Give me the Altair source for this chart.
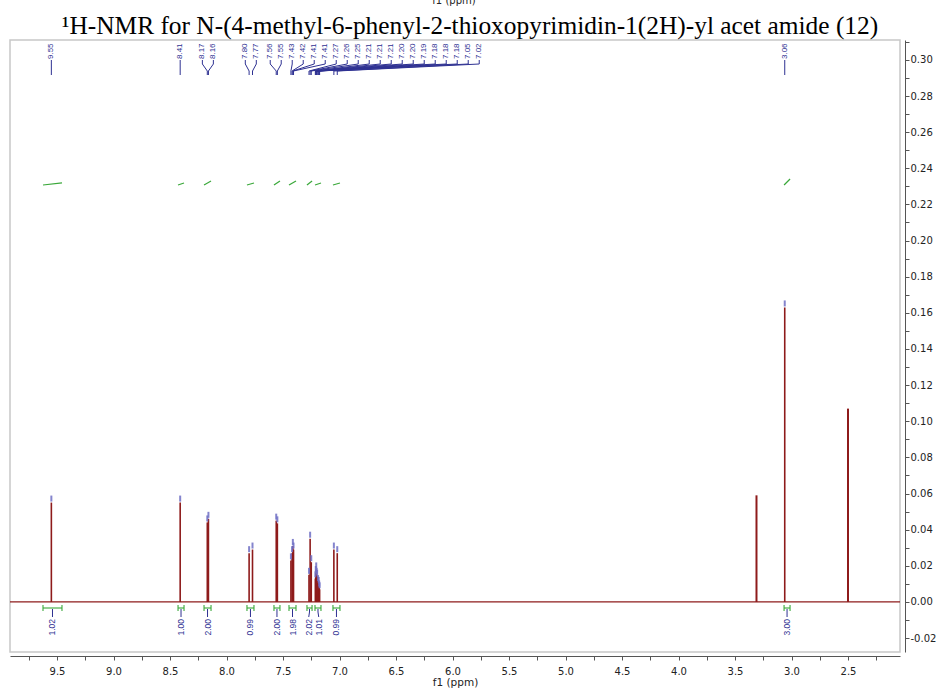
import altair as alt
import pandas as pd

# ---------------- data ----------------
peak_ppm = [9.55, 8.41, 8.17, 8.16, 7.80, 7.77, 7.56, 7.55, 7.43, 7.42, 7.413, 7.407,
            7.27, 7.26, 7.25, 7.214, 7.210, 7.206, 7.202, 7.198, 7.190, 7.184, 7.180, 7.176,
            7.05, 7.02, 3.06]
peak_height = [0.055, 0.055, 0.044, 0.046, 0.027, 0.029, 0.045, 0.0435, 0.023, 0.027, 0.031, 0.029,
               0.015, 0.035, 0.022, 0.013, 0.016, 0.018, 0.015, 0.014, 0.011, 0.010, 0.008, 0.007,
               0.029, 0.027, 0.163]
peak_labels = ["9.55", "8.41", "8.17", "8.16", "7.80", "7.77", "7.56", "7.55", "7.43", "7.42",
               "7.41", "7.41", "7.27", "7.26", "7.25", "7.21", "7.21", "7.21", "7.20", "7.20",
               "7.19", "7.18", "7.18", "7.18", "7.05", "7.02", "3.06"]
solvent_ppm = [3.31, 2.50]
solvent_height = [0.059, 0.107]

int_start = [9.624, 8.429, 8.199, 7.819, 7.580, 7.447, 7.288, 7.217, 7.058, 3.066]
int_end = [9.456, 8.376, 8.137, 7.757, 7.527, 7.385, 7.243, 7.164, 6.996, 3.013]
int_values = ["1.02", "1.00", "2.00", "0.99", "2.00", "1.98", "2.02", "1.01", "0.99", "3.00"]

title_text = "\u00b9H-NMR for N-(4-methyl-6-phenyl-2-thioxopyrimidin-1(2H)-yl acet amide (12)"

# ---------------- layout helpers ----------------
X_MIN, X_MAX = 2.04, 9.916
Y_MIN, Y_MAX = -0.0277, 0.311
W, H = 890, 612
PPM_PER_PX = (X_MAX - X_MIN) / W

RED = "#8e1b1b"
NAVY = "#2e3192"
GREEN = "#3aa83a"


def spread(actual, gap, cap):
    """Push labels apart (descending ppm) and re-centre short chains."""
    out, chains = [], []
    for i, p in enumerate(actual):
        if out and p > out[-1] - gap:
            out.append(out[-1] - gap)
            chains[-1].append(i)
        else:
            out.append(p)
            chains.append([i])
    prev_last = None
    for ch in chains:
        s = sum(actual[i] for i in ch) / len(ch) - sum(out[i] for i in ch) / len(ch)
        s = max(0.0, min(s, cap))
        if prev_last is not None:
            s = min(s, max(0.0, prev_last - gap - out[ch[0]]))
        for i in ch:
            out[i] += s
        prev_last = out[ch[-1]]
    return out


label_pos = spread(peak_ppm, 11 * PPM_PER_PX, 6 * PPM_PER_PX)
int_center = [(a + b) / 2 for a, b in zip(int_start, int_end)]
int_pos = spread(int_center, 10 * PPM_PER_PX, 6 * PPM_PER_PX)

# ---------------- tables ----------------
peaks = pd.DataFrame({"ppm": peak_ppm, "h": peak_height})
solv = pd.DataFrame({"ppm": solvent_ppm, "h": solvent_height})
labels = pd.DataFrame({"ppm": label_pos, "txt": peak_labels})

seg_rows = []
for p, q in zip(peak_ppm, label_pos):
    if abs(p - q) < 1e-6:
        seg_rows.append((p, p, 20, 35))
    else:
        seg_rows.append((q, q, 20, 24))
        seg_rows.append((q, p, 24, 31))
        seg_rows.append((p, p, 31, 35))
segs = pd.DataFrame(seg_rows, columns=["ppm", "ppm2", "py", "py2"])

ig_rows = []   # integral curves (green, upper)
br_rows = []   # brackets (green, bottom)
bl_rows = []   # blue connectors (bottom)
for a, b, c, q, v in zip(int_start, int_end, int_center, int_pos, int_values):
    ig_rows.append((a, b, 145, 145 - 2 * float(v)))
    br_rows.append((a, b, 568, 568))
    br_rows.append((a, a, 565, 571))
    br_rows.append((b, b, 565, 571))
    bl_rows.append((c, c, 569, 572))
    bl_rows.append((c, q, 572, 577))
integ = pd.DataFrame(ig_rows, columns=["ppm", "ppm2", "py", "py2"])
brk = pd.DataFrame(br_rows, columns=["ppm", "ppm2", "py", "py2"])
blu = pd.DataFrame(bl_rows, columns=["ppm", "ppm2", "py", "py2"])
ilab = pd.DataFrame({"ppm": int_pos, "txt": int_values})

# ---------------- scales & axes ----------------
x_ticks = [round(9.75 - 0.25 * i, 2) for i in range(31)]
y_ticks = [round(-0.02 + 0.01 * i, 2) for i in range(34)]

x_scale = alt.Scale(domain=[X_MIN, X_MAX], reverse=True, nice=False, zero=False)
y_scale = alt.Scale(domain=[Y_MIN, Y_MAX], nice=False, zero=False)

X_AX = alt.Axis(values=x_ticks, orient="bottom", offset=4, title="f1 (ppm)",
                labelExpr="round(datum.value*4) % 2 == 0 ? format(datum.value, '.1f') : ''",
                labelOverlap=False, labelFlush=False, grid=False,
                domainColor="#555555", tickColor="#555555", tickSize=4, labelPadding=6,
                labelFont="DejaVu Sans", labelFontSize=10, labelColor="#222222",
                titleFont="DejaVu Sans", titleFontSize=10.5, titleFontWeight="normal",
                titleColor="#222222", titlePadding=1)
Y_AX = alt.Axis(values=y_ticks, orient="right", offset=5, title=None,
                labelExpr=("abs(round(datum.value*100)) % 2 == 0 ? "
                           "(datum.value < 0 ? '-' + format(-datum.value, '.2f') : format(datum.value, '.2f')) : ''"),
                labelOverlap=False, labelFlush=False, grid=False,
                domainColor="#555555", tickColor="#555555", tickSize=4, labelPadding=1,
                labelFont="DejaVu Sans", labelFontSize=10, labelColor="#222222")


def X(field="ppm"):
    return alt.X(f"{field}:Q", scale=x_scale, axis=X_AX)


def Y(field="h"):
    return alt.Y(f"{field}:Q", scale=y_scale, axis=Y_AX)


PY = alt.Y("py:Q", scale=None, axis=None)
PY2 = alt.Y2("py2:Q")
PX2 = alt.X2("ppm2:Q")

# ---------------- layers ----------------
baseline = alt.Chart(pd.DataFrame({"ppm": [X_MAX, X_MIN], "h": [0.0, 0.0]})).mark_line(
    color=RED, strokeWidth=1.3).encode(x=X(), y=Y())

peak_rules = alt.Chart(peaks).mark_rule(color=RED, strokeWidth=1.6).encode(
    x=X(), y=Y(), y2=alt.datum(0))

solv_rules = alt.Chart(solv).mark_rule(color=RED, strokeWidth=2.0).encode(
    x=X(), y=Y(), y2=alt.datum(0))

peak_marks = alt.Chart(peaks).mark_rule(color="#6f6fc4", strokeWidth=2, opacity=0.85,
                                        yOffset=-1, y2Offset=-7).encode(
    x=X(), y=Y(), y2=alt.Y2("h:Q"))

lab_text = alt.Chart(labels).mark_text(angle=270, align="left", baseline="middle",
                                       font="Liberation Sans", fontSize=8, color=NAVY).encode(
    x=X(), y=alt.value(19), text="txt:N")

lab_segs = alt.Chart(segs).mark_rule(color=NAVY, strokeWidth=1.0).encode(
    x=X(), x2=PX2, y=PY, y2=PY2)

integ_curves = alt.Chart(integ).mark_rule(color=GREEN, strokeWidth=1.2).encode(
    x=X(), x2=PX2, y=PY, y2=PY2)

brackets = alt.Chart(brk).mark_rule(color=GREEN, strokeWidth=1.1).encode(
    x=X(), x2=PX2, y=PY, y2=PY2)

blue_conn = alt.Chart(blu).mark_rule(color=NAVY, strokeWidth=1.0).encode(
    x=X(), x2=PX2, y=PY, y2=PY2)

int_text = alt.Chart(ilab).mark_text(angle=270, align="right", baseline="middle",
                                     font="Liberation Sans", fontSize=8.5, color=NAVY).encode(
    x=X(), y=alt.value(579), text="txt:N")

title = alt.Chart(pd.DataFrame({"t": [title_text]})).mark_text(
    font="Liberation Serif", fontSize=25.4, color="#000000", align="center",
    baseline="alphabetic").encode(x=alt.value(460), y=alt.value(-6), text="t:N")

top_axis_title = alt.Chart(pd.DataFrame({"t": ["f1 (ppm)"]})).mark_text(
    font="DejaVu Sans", fontSize=10, color="#222222", align="center",
    baseline="alphabetic").encode(x=alt.value(444), y=alt.value(-36), text="t:N")

chart = alt.layer(
    baseline, peak_rules, solv_rules, peak_marks, lab_segs, lab_text,
    integ_curves, brackets, blue_conn, int_text, title, top_axis_title
).properties(
    width=W, height=H,
    autosize=alt.AutoSizeParams(type="none"),
    padding={"left": 10, "top": 40, "right": 38, "bottom": 41},
    background="white",
).configure_view(stroke="#c8c8c8", strokeWidth=1.5)

chart.save("out.html", embed_options={"renderer": "svg", "actions": False})
